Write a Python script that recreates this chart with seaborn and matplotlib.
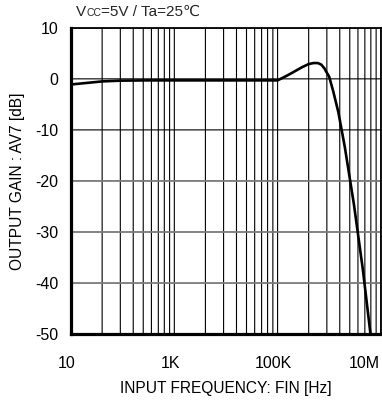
import numpy as np
import pandas as pd
import matplotlib
matplotlib.use("Agg")
import matplotlib.pyplot as plt
import matplotlib.transforms as mtransforms
import seaborn as sns
from matplotlib.ticker import FixedLocator, NullFormatter

# Gain curve (Hz, dB)
freq_hz = [10, 20, 40, 90, 300, 1e3, 1e4, 1e5, 1.5e5, 2e5, 3e5, 4e5, 5e5,
           6e5, 7e5, 8e5, 9e5, 1.0e6, 1.2e6, 1.5e6, 2e6, 3e6, 4.5e6, 6.3e6]
gain_db = [-1.1, -0.8, -0.5, -0.35, -0.3, -0.3, -0.3, -0.3, 0.6, 1.3, 2.3, 2.9, 3.1,
           3.1, 2.8, 2.1, 1.2, 0.4, -2.5, -6.5, -13.3, -24.5, -37.5, -50]

xtick_vals = [10, 1e3, 1e5, 1e7]
xtick_labels = ["10", "1K", "100K", "10M"]
ytick_vals = [-50, -40, -30, -20, -10, 0, 10]
ytick_labels = ["-50", "-40", "-30", "-20", "-10", "0", "10"]

df = pd.DataFrame({"freq": freq_hz, "gain": gain_db})

sns.set_theme(style="white")
plt.rcParams['font.family'] = ['Liberation Sans', 'DejaVu Sans']

fig = plt.figure(figsize=(3.82, 4.03), dpi=100)
ax = fig.add_axes([0.186, 0.171, 0.811, 0.760])

sns.lineplot(data=df, x="freq", y="gain", color="black", linewidth=1.9, ax=ax, zorder=5)

ax.set_xscale("log")
ax.set_xlim(10, 1e7)
ax.set_ylim(-50, 10)

# grid: the chart's minor lines go 2..9 over each 100x step
minor = [10 * 100 ** k * m ** 2 for k in range(3) for m in range(2, 10)]
ax.xaxis.set_major_locator(FixedLocator(xtick_vals))
ax.xaxis.set_minor_locator(FixedLocator(minor))
ax.xaxis.set_minor_formatter(NullFormatter())
ax.set_xticklabels(xtick_labels)
ax.set_yticks(ytick_vals)
ax.set_yticklabels(ytick_labels)

# unsnapped thin lines -> mix of crisp black and soft grey like the scan
ax.grid(True, which="both", axis="x", color="black", linewidth=0.8, snap=False, zorder=1)
ax.grid(True, which="major", axis="y", color="black", linewidth=0.8, snap=False, zorder=1)
for val, gl in zip(ytick_vals, ax.yaxis.get_gridlines()):
    if val in (-20, -30, -40):
        gl.set_color("#7a7a7a")
        gl.set_linewidth(1.3)
ax.set_axisbelow(True)

ax.tick_params(axis="both", which="both", length=0, labelsize=11.5, colors="black")
ax.tick_params(axis="x", pad=16)
ax.tick_params(axis="y", pad=9)

# tick labels sit a little left of their lines; keep 10M inside the frame
for lab, txt in zip(ax.get_xticklabels(), xtick_labels):
    dx = -12 / 72 if txt == "10M" else -3 / 72
    lab.set_transform(lab.get_transform() +
                      mtransforms.ScaledTranslation(dx, 0, fig.dpi_scale_trans))

for side in ["left", "bottom"]:
    ax.spines[side].set_linewidth(2.3)
for side in ["top", "right"]:
    ax.spines[side].set_linewidth(1.3)
for s in ax.spines.values():
    s.set_color("black")
    s.set_zorder(6)

ax.set_xlabel("INPUT FREQUENCY: FIN [Hz]", fontsize=11.2, labelpad=7, color="black")
ax.set_ylabel("OUTPUT GAIN : AV7 [dB]", fontsize=11.2, color="black")
ax.yaxis.set_label_coords(-0.150, 0.5)

# title "Vcc=5V / Ta=25℃" with small CC
t1 = ax.text(0.016, 1.03, "V", transform=ax.transAxes, fontsize=11, va="bottom")
t2 = ax.annotate("CC", xy=(1, 0), xycoords=t1, xytext=(0, 0.5),
                 textcoords="offset points", fontsize=7.5, va="bottom")
ax.annotate("=5V / Ta=25℃", xy=(1, 0), xycoords=t2, xytext=(0, -0.5),
            textcoords="offset points", fontsize=11, va="bottom")

fig.savefig("out.png", dpi=100)
